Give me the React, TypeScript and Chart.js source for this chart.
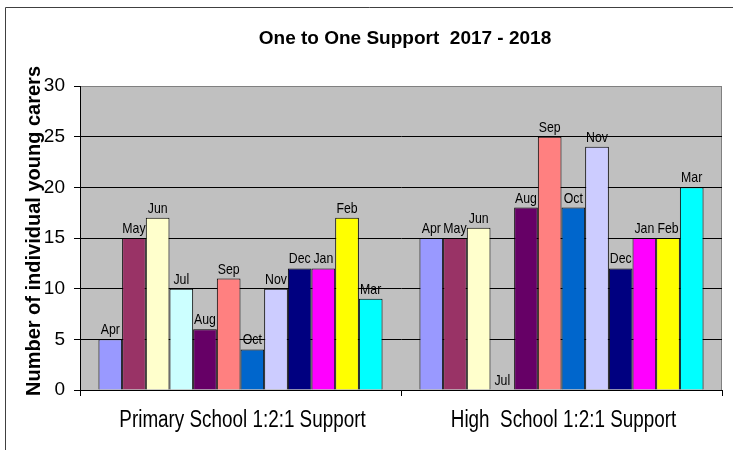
import React, { useEffect, useRef } from "react";
import { Chart, registerables } from "chart.js";

Chart.register(...registerables);

const categories = ["Primary School 1:2:1 Support", "High  School 1:2:1 Support"];
const months = ["Apr", "May", "Jun", "Jul", "Aug", "Sep", "Oct", "Nov", "Dec", "Jan", "Feb", "Mar"];
const primaryValues = [5, 15, 17, 10, 6, 11, 4, 10, 12, 12, 17, 9];
const highValues = [15, 15, 16, 0, 18, 25, 18, 24, 12, 15, 15, 20];
const monthColors = [
  "#9999FF", "#993366", "#FFFFCC", "#CCFFFF", "#660066", "#FF8080",
  "#0066CC", "#CCCCFF", "#000080", "#FF00FF", "#FFFF00", "#00FFFF",
];
const yTicks = [0, 5, 10, 15, 20, 25, 30];
const chartTitle = "One to One Support  2017 - 2018";
const yTitle = "Number of individual young carers";

const SANS = "'Liberation Sans', Arial, sans-serif";
const NARROW_SCALE = 0.82;

function narrowText(ctx: any, text: string, x: number, y: number) {
  ctx.save();
  ctx.translate(x, y);
  ctx.scale(NARROW_SCALE, 1);
  ctx.fillText(text, 0, 0);
  ctx.restore();
}

const decorPlugin = {
  id: "decor",
  beforeDraw(chart: any) {
    const { ctx, chartArea } = chart;
    ctx.save();
    ctx.fillStyle = "#ffffff";
    ctx.fillRect(0, 0, chart.width, chart.height);
    ctx.strokeStyle = "#404040";
    ctx.lineWidth = 1;
    ctx.beginPath();
    ctx.moveTo(5.5, chart.height);
    ctx.lineTo(5.5, 7.5);
    ctx.lineTo(chart.width, 7.5);
    ctx.stroke();
    ctx.fillStyle = "#C0C0C0";
    ctx.fillRect(chartArea.left, chartArea.top, chartArea.right - chartArea.left, chartArea.bottom - chartArea.top);
    ctx.strokeStyle = "#808080";
    ctx.beginPath();
    ctx.moveTo(chartArea.left, chartArea.top + 0.5);
    ctx.lineTo(chartArea.right - 0.5, chartArea.top + 0.5);
    ctx.lineTo(chartArea.right - 0.5, chartArea.bottom);
    ctx.stroke();
    ctx.restore();
  },
  afterDatasetsDraw(chart: any) {
    const { ctx } = chart;
    ctx.save();
    ctx.fillStyle = "#000";
    ctx.font = `15px ${SANS}`;
    ctx.textAlign = "center";
    ctx.textBaseline = "alphabetic";
    chart.data.datasets.forEach((ds: any, i: number) => {
      const meta = chart.getDatasetMeta(i);
      meta.data.forEach((el: any) => {
        narrowText(ctx, ds.label, el.x, el.y - 5);
      });
    });
    ctx.restore();
  },
  afterDraw(chart: any) {
    const { ctx, chartArea } = chart;
    const xs = chart.scales.x;
    ctx.save();
    ctx.fillStyle = "#000";
    ctx.textAlign = "center";
    ctx.textBaseline = "alphabetic";
    // category labels, placed by the x scale
    ctx.font = `23px ${SANS}`;
    chart.data.labels.forEach((lab: string, i: number) => {
      narrowText(ctx, lab, xs.getPixelForTick(i) + 2, xs.top + 37);
    });
    // title
    ctx.font = `bold 19px ${SANS}`;
    ctx.fillText(chartTitle, (chartArea.left + chartArea.right) / 2 + 4, 44);
    // y axis title
    ctx.translate(39.5, (chartArea.top + chartArea.bottom) / 2 - 7);
    ctx.rotate(-Math.PI / 2);
    ctx.font = `bold 20px ${SANS}`;
    ctx.fillText(yTitle, 0, 0);
    ctx.restore();
  },
};

export default function App() {
  const ref = useRef<HTMLCanvasElement | null>(null);
  useEffect(() => {
    if (!ref.current) return;
    const chart = new Chart(ref.current, {
      type: "bar",
      data: {
        labels: categories,
        datasets: months.map((m, i) => ({
          label: m,
          data: [primaryValues[i], highValues[i]],
          backgroundColor: monthColors[i],
          borderColor: "#000000",
          borderWidth: 1,
          categoryPercentage: 0.885,
          barPercentage: 1,
        })),
      },
      options: {
        animation: false,
        responsive: false,
        layout: { padding: { left: 0, top: 86, right: 11, bottom: 0 } },
        plugins: {
          legend: { display: false },
          title: { display: false },
          tooltip: { enabled: false },
        },
        scales: {
          x: {
            offset: true,
            grid: {
              offset: true,
              drawOnChartArea: false,
              drawTicks: true,
              tickLength: 6,
              color: "#000",
            },
            border: { color: "#000", width: 1 },
            ticks: { display: false },
            afterFit(scale: any) {
              scale.height = 60;
            },
          },
          y: {
            min: 0,
            max: 30,
            afterBuildTicks(scale: any) {
              scale.ticks = yTicks.map((v) => ({ value: v }));
            },
            grid: {
              color: (c: any) => (c.tick && c.tick.value === 30 ? "#808080" : "#000"),
              tickColor: "#000",
              tickLength: 6,
              drawTicks: true,
            },
            border: { color: "#000", width: 1 },
            ticks: {
              color: "#000",
              font: { family: SANS, size: 19 },
              padding: 9,
            },
            afterFit(scale: any) {
              scale.width = 80;
            },
          },
        },
      },
      plugins: [decorPlugin],
    });
    return () => chart.destroy();
  }, []);
  return (
    <canvas
      ref={ref}
      width={733}
      height={450}
      style={{ position: "fixed", left: 0, top: 0, width: 733, height: 450 }}
    />
  );
}
